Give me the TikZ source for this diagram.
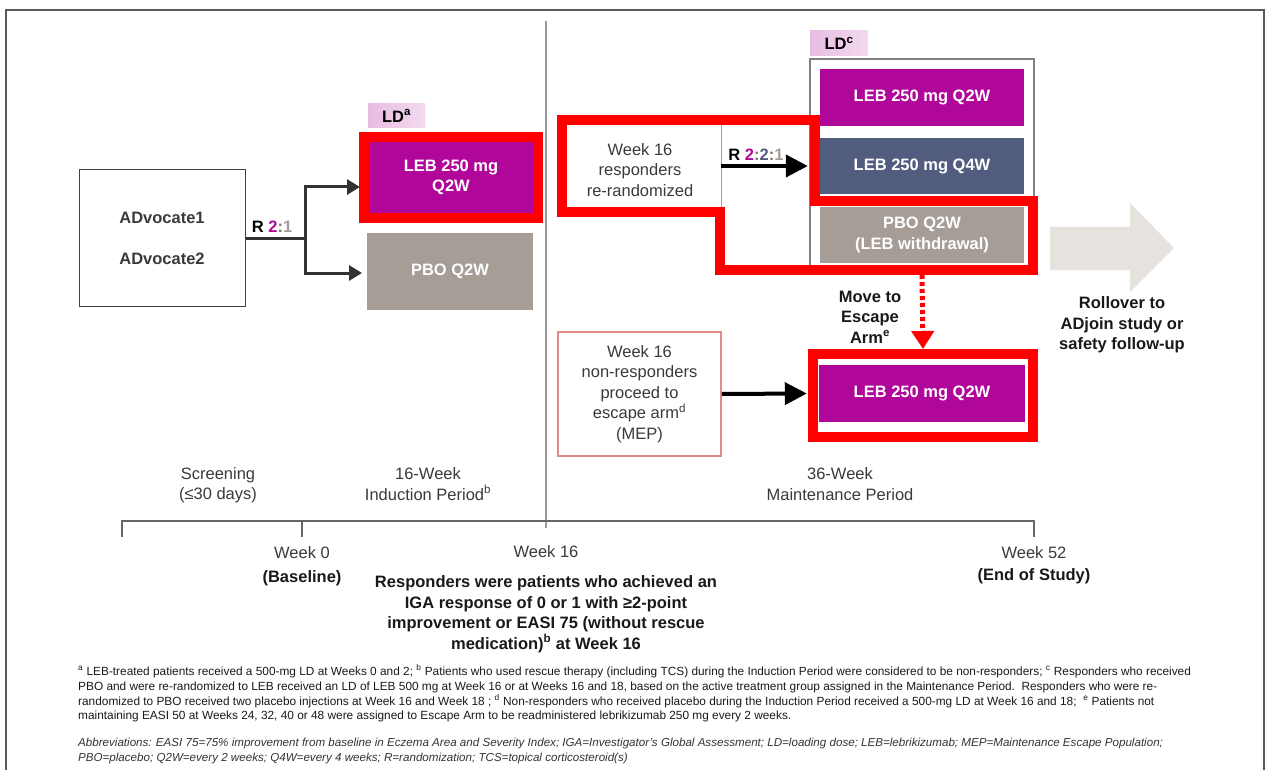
\documentclass[tikz,border=0pt]{standalone}
\usepackage{fontspec}
\setmainfont{Liberation Sans}
\usetikzlibrary{arrows.meta}
\definecolor{leb}{HTML}{B0069A}
\definecolor{slate}{HTML}{515C7E}
\definecolor{taupe}{HTML}{A69D96}
\definecolor{redf}{HTML}{FF0000}
\definecolor{ldl}{HTML}{E8BCE2}
\definecolor{ldr}{HTML}{F3DAEF}
\definecolor{arrowgray}{HTML}{E6E2DE}
\definecolor{txt}{HTML}{3A3A3A}
\definecolor{nrborder}{HTML}{E58A8A}
\definecolor{greenl}{HTML}{7DB77D}
\definecolor{framegray}{HTML}{5A5A5A}
\newcommand\mfs{\fontsize{16.5}{20.5}\selectfont}
\newcommand\ffs{\fontsize{11.85}{14}\selectfont}
\newcommand\afs{\fontsize{11.6}{14}\selectfont}
\begin{document}
\begin{tikzpicture}[x=1pt,y=-1pt,
  every node/.style={inner sep=0pt},
  fillbox/.style={text=white, font=\mfs\bfseries, align=center},
  redframe/.style={draw=redf, line width=10pt, line join=miter},
  ldlab/.style={left color=ldl, right color=ldr, minimum width=57pt, minimum height=24pt, font=\mfs\bfseries, text=black},
  lab/.style={font=\mfs, text=txt, align=center},
  blab/.style={font=\mfs\bfseries, text=black!90, align=center},
  arr/.style={line width=3pt, draw=black!80, -{Triangle[length=13pt,width=15pt]}},
  bigarr/.style={line width=4pt, draw=black, -{Triangle[length=22pt,width=22pt]}},
  dotarr/.style={line width=5pt, draw=redf, dash pattern=on 4pt off 3pt, -{Triangle[length=18pt,width=22pt]}},
  tl/.style={draw=black!60, line width=2pt},
  foot/.style={anchor=base west, font=\ffs, text=black!90}
]
\useasboundingbox (0,0) rectangle (1266,770);
% outer frame
\draw[draw=framegray, line width=2.2pt] (6,772) -- (6,10) -- (1264,10) -- (1264,772);
% divider and timeline
\draw[draw=black!40, line width=2pt] (546,21) -- (546,528);
\draw[tl] (122,537) -- (122,521) -- (1034,521) -- (1034,537);
\draw[tl] (302,521) -- (302,537);

% ---------- induction ----------
\node[draw=black!75, line width=1pt, minimum width=166pt, minimum height=136pt,
      font=\fontsize{16.5}{41}\selectfont\bfseries, text=txt, align=center] (adv) at (162,238) {ADvocate1\\ADvocate2};
\node[ldlab] (lda) at (396.5,116) {LD\textsuperscript{a}};
\node[fillbox, fill=leb, minimum width=164pt, minimum height=71pt] (leb1) at (451,177.5) {LEB 250 mg\\Q2W};
\node[redframe, minimum width=174pt, minimum height=81pt] (rf1) at (451,177.5) {};
\node[fillbox, fill=taupe, minimum width=166pt, minimum height=77pt] (pbo1) at (450,271.5) {PBO Q2W};
\node[font=\mfs\bfseries, text=black] (r21) at (272,227) {R \textcolor{leb}{2}\textcolor{black!55}{:}\textcolor{taupe}{1}};
\coordinate (split) at (305,238);
\coordinate (t1) at (360,187);
\coordinate (t2) at (362,273);
\draw[arr] (adv.east |- split) -- (split) |- (t1);
\draw[arr] (split) |- (t2);

% ---------- maintenance ----------
\node[ldlab, minimum width=58pt, minimum height=25pt] (ldc) at (839,43.5) {LD\textsuperscript{c}};
\node[draw=black!50, line width=1.2pt, minimum width=224pt, minimum height=209pt] (grp) at (922,163.5) {};
\node[fillbox, fill=leb, minimum width=204pt, minimum height=57pt] (leb2) at (922,97.5) {LEB 250 mg Q2W};
\node[fillbox, fill=slate, minimum width=204pt, minimum height=56pt] (leb4) at (922,166) {LEB 250 mg Q4W};
\node[fillbox, fill=taupe, minimum width=204pt, minimum height=56pt] (pbo2) at (922,235) {PBO Q2W\\(LEB withdrawal)};
\node[lab] (resp) at (640,170) {Week 16\\responders\\re-randomized};
\coordinate (g1) at (721,125);
\coordinate (g2) at (721,217);
\draw[draw=greenl, line width=1pt] (g1) -- (g2);
\node[font=\mfs\bfseries, text=black] (r221) at (756,155) {R \textcolor{leb}{2}\textcolor{black!55}{:}\textcolor{slate}{2}\textcolor{black!55}{:}\textcolor{taupe}{1}};
\coordinate (ga) at (721,166);
\draw[bigarr] (ga) -- ([xshift=-12pt]leb4.west);
% red outline round responders and withdrawal arm
\draw[redframe] (562,120) -- (815,120) -- (815,201) -- (1033,201) -- (1033,270) -- (720,270) -- (720,212) -- (562,212) -- cycle;

% escape arm
\node[lab, draw=nrborder, line width=1.5pt, minimum width=163pt, minimum height=124pt] (nr) at (639.5,394) {Week 16\\non-responders\\proceed to\\escape arm\textsuperscript{d}\\(MEP)};
\node[fillbox, fill=leb, minimum width=206pt, minimum height=57pt] (esc) at (922,393.5) {LEB 250 mg Q2W};
\node[redframe, minimum width=220pt, minimum height=83pt] (escf) at (923,395.5) {};
\draw[bigarr] (nr.east) -- ([xshift=-12pt]esc.west);
\coordinate (rb) at (922,275);
\draw[dotarr] (rb) -- (escf.north);
\node[blab] (mv) at (870,317) {Move to\\Escape\\Arm\textsuperscript{e}};

% rollover arrow
\fill[arrowgray] (1050,227) -- (1130,227) -- (1130,203) -- (1174,248) -- (1130,292) -- (1130,270) -- (1050,270) -- cycle;
\node[blab] (ro) at (1122,325) {Rollover to\\ADjoin study or\\safety follow-up};

% ---------- timeline labels ----------
\node[lab] (scr) at (218,485) {Screening\\(≤30 days)};
\node[lab] (ind) at (428,484) {16-Week\\Induction Period\textsuperscript{b}};
\node[lab] (mnt) at (840,484) {36-Week\\Maintenance Period};
\node[lab] (w0) at (302,553) {Week 0};
\node[blab] (bl) at (302,578) {(Baseline)};
\node[lab] (w16) at (546,552) {Week 16};
\node[lab] (w52) at (1034,553) {Week 52};
\node[blab] (eos) at (1034,576) {(End of Study)};
\node[blab] (def) at (546,614) {Responders were patients who achieved an\\IGA response of 0 or 1 with ≥2-point\\improvement or EASI 75 (without rescue\\medication)\textsuperscript{b} at Week 16};

% ---------- footnotes ----------
\node[foot] (f1) at (78,675) {\textsuperscript{a} LEB-treated patients received a 500-mg LD at Weeks 0 and 2; \textsuperscript{b} Patients who used rescue therapy (including TCS) during the Induction Period were considered to be non-responders; \textsuperscript{c} Responders who received};
\node[foot] (f2) at (78,690) {PBO and were re-randomized to LEB received an LD of LEB 500 mg at Week 16 or at Weeks 16 and 18, based on the active treatment group assigned in the Maintenance Period.\ \ Responders who were re-};
\node[foot] (f3) at (78,705) {randomized to PBO received two placebo injections at Week 16 and Week 18 ; \textsuperscript{d} Non-responders who received placebo during the Induction Period received a 500-mg LD at Week 16 and 18;\ \ \textsuperscript{e} Patients not};
\node[foot] (f4) at (78,719) {maintaining EASI 50 at Weeks 24, 32, 40 or 48 were assigned to Escape Arm to be readministered lebrikizumab 250 mg every 2 weeks.};
\node[foot, font=\afs\itshape, text=black!80] (ab1) at (78,746) {Abbreviations: EASI 75=75\% improvement from baseline in Eczema Area and Severity Index; IGA=Investigator's Global Assessment; LD=loading dose; LEB=lebrikizumab; MEP=Maintenance Escape Population;};
\node[foot, font=\afs\itshape, text=black!80] (ab2) at (78,761) {PBO=placebo; Q2W=every 2 weeks; Q4W=every 4 weeks; R=randomization; TCS=topical corticosteroid(s)};
\end{tikzpicture}
\end{document}
